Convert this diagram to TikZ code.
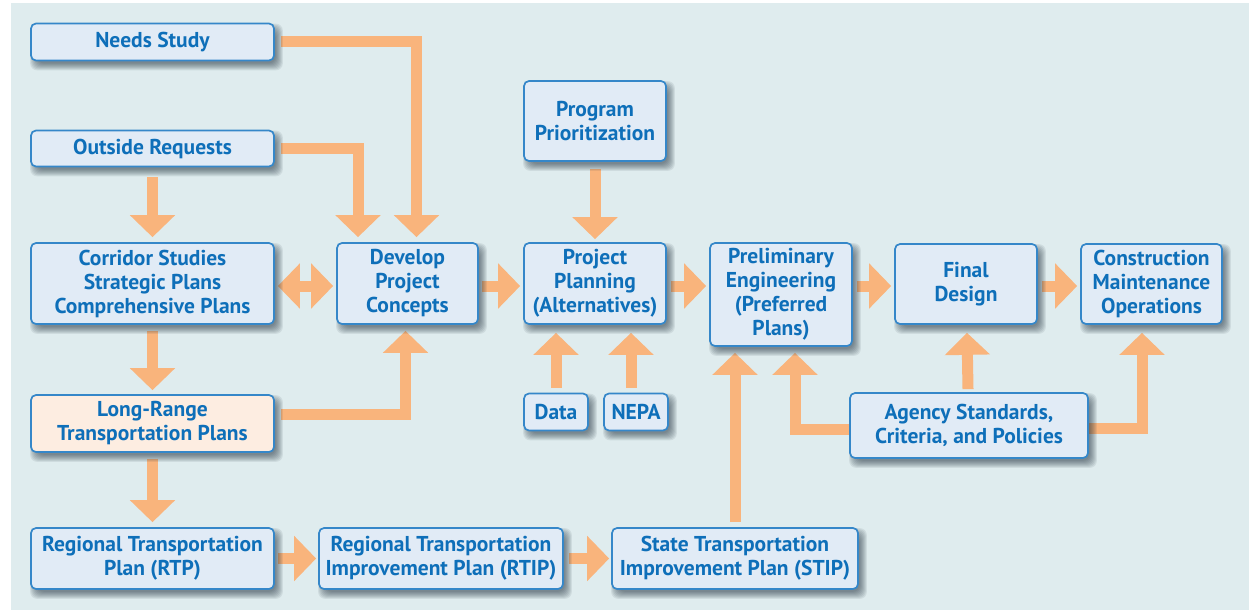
\documentclass[tikz,border=0pt]{standalone}
\usepackage{fontspec}
\setmainfont{PT Sans}
\usetikzlibrary{arrows.meta}
\definecolor{pagebg}{HTML}{DFECEE}
\definecolor{boxfill}{HTML}{E1EBF6}
\definecolor{boxline}{HTML}{3587C9}
\definecolor{boxtext}{HTML}{0E6FB9}
\definecolor{peach}{HTML}{FDEDE1}
\definecolor{flow}{HTML}{F9B47C}
\definecolor{shadowc}{HTML}{1E2E3A}
\pgfdeclarelayer{bg}
\pgfdeclarelayer{flows}
\pgfdeclarelayer{shade}
\pgfsetlayers{bg,flows,shade,main}
\tikzset{
  box/.style={draw=boxline, line width=1.7pt, fill=boxfill, rounded corners=5pt,
    text=boxtext, font=\bfseries\fontsize{21.5}{24}\selectfont, align=center,
    inner sep=0pt},
  flowarrow/.style={draw=flow, line width=11pt, line join=miter,
    -{Triangle[width=44pt,length=22pt]}},
  flowboth/.style={draw=flow, line width=11pt,
    {Triangle[width=44pt,length=22pt]}-{Triangle[width=44pt,length=22pt]}},
  softshade/.style={fill=shadowc, opacity=0.085, rounded corners=7pt},
}
\begin{document}
\begin{tikzpicture}[x=1pt,y=-1pt]
\useasboundingbox (0,0) rectangle (1249,610);
\begin{pgfonlayer}{bg}
  \fill[white] (0,0) rectangle (1249,610);
  \fill[pagebg] (11,3) rectangle (1249,610);
\end{pgfonlayer}

% left column
\node[box, minimum width=243pt, minimum height=37pt] (needs) at (152.5,42) {Needs Study};
\node[box, minimum width=243pt, minimum height=36pt] (outside) at (152.5,148.5) {Outside Requests};
\node[box, minimum width=243pt, minimum height=81pt] (corridor) at (152.5,283.5)
  {Corridor Studies\\Strategic Plans\\Comprehensive Plans};
\node[box, fill=peach, minimum width=243pt, minimum height=57pt] (longrange) at (152.5,423.5)
  {Long-Range\\Transportation Plans};
\node[box, minimum width=243pt, minimum height=61pt] (rtp) at (152.5,558.5)
  {Regional Transportation\\Plan (RTP)};

% bottom row
\node[box, minimum width=244pt, minimum height=61pt] (rtip) at (441,558.5)
  {Regional Transportation\\Improvement Plan (RTIP)};
\node[box, minimum width=246pt, minimum height=61pt] (stip) at (735,558.5)
  {State Transportation\\Improvement Plan (STIP)};

% main sequence
\node[box, minimum width=141pt, minimum height=81pt] (develop) at (407.5,283.5)
  {Develop\\Project\\Concepts};
\node[box, minimum width=142pt, minimum height=80pt] (prog) at (595,121)
  {Program\\Prioritization};
\node[box, minimum width=142pt, minimum height=81pt] (pp) at (595,283.5)
  {Project\\Planning\\(Alternatives)};
\node[box, minimum width=142pt, minimum height=103pt] (pe) at (781,294.5)
  {Preliminary\\Engineering\\(Preferred\\Plans)};
\node[box, minimum width=142pt, minimum height=80pt] (final) at (966,284)
  {Final\\Design};
\node[box, minimum width=141pt, minimum height=80pt] (constr) at (1151.5,284)
  {Construction\\Maintenance\\Operations};

% inputs
\node[box, minimum width=64pt, minimum height=37pt] (data) at (556,412) {Data};
\node[box, minimum width=64pt, minimum height=37pt] (nepa) at (636,412) {NEPA};
\node[box, minimum width=238pt, minimum height=65pt] (agency) at (969,425.5)
  {Agency Standards,\\Criteria, and Policies};

% soft drop shadows, offset down and to the right
\begin{pgfonlayer}{shade}
  \foreach \n in {needs,outside,corridor,longrange,rtp,rtip,stip,develop,prog,pp,pe,final,constr,data,nepa,agency}{
    \foreach \r in {-3,-2,...,4}{
      \fill[softshade] ([xshift=4pt-\r pt, yshift=-5pt-\r pt]\n.south west)
        rectangle ([xshift=4pt+\r pt, yshift=-5pt+\r pt]\n.north east);
    }
  }
\end{pgfonlayer}

\begin{pgfonlayer}{flows}
  \draw[flowarrow] ([xshift=6pt]needs.east) -| ([xshift=9pt,yshift=5pt]develop.north);
  \draw[flowarrow] ([xshift=6pt]outside.east) -| ([xshift=-49.5pt,yshift=5pt]develop.north);
  \draw[flowarrow] ([yshift=-10pt]outside.south) -- ([yshift=5pt]corridor.north);
  \draw[flowboth] ([xshift=3pt,yshift=-2.5pt]corridor.east) -- ([xshift=-3pt,yshift=-2.5pt]develop.west);
  \draw[flowarrow] ([yshift=-6pt]corridor.south) -- ([yshift=4pt]longrange.north);
  \draw[flowarrow] ([xshift=6pt,yshift=9pt]longrange.east) -| ([xshift=-2pt,yshift=-6pt]develop.south);
  \draw[flowarrow] ([yshift=-6pt]longrange.south) -- ([yshift=5pt]rtp.north);
  \draw[flowarrow] ([xshift=3pt]rtp.east) -- ([xshift=-2pt]rtip.west);
  \draw[flowarrow] ([xshift=5pt]rtip.east) -- ([xshift=-2pt]stip.west);
  \draw[flowarrow] ([yshift=5pt]stip.north) -- ([xshift=-46pt,yshift=-6pt]pe.south);
  \draw[flowarrow] ([yshift=-7pt]prog.south) -- ([yshift=3pt]pp.north);
  \draw[flowarrow] ([xshift=3pt,yshift=-2.5pt]develop.east) -- ([xshift=-3pt,yshift=-2.5pt]pp.west);
  \draw[flowarrow] ([xshift=4pt,yshift=-2.5pt]pp.east) -- ([xshift=-3pt,yshift=-2.5pt]pp.east -| pe.west);
  \draw[flowarrow] ([xshift=4pt,yshift=-2pt]final.west -| pe.east) -- ([xshift=-3pt,yshift=-2pt]final.west);
  \draw[flowarrow] ([xshift=4pt,yshift=-2pt]final.east) -- ([xshift=-3pt,yshift=-2pt]constr.west);
  \draw[flowarrow] ([yshift=5pt]data.north) -- ([xshift=-39pt,yshift=-8pt]pp.south);
  \draw[flowarrow] ([xshift=-5pt,yshift=5pt]nepa.north) -- ([xshift=36pt,yshift=-8pt]pp.south);
  \draw[flowarrow] ([yshift=-3.5pt]agency.west) -| ([xshift=14pt,yshift=-6pt]pe.south);
  \draw[flowarrow] ([xshift=-1pt,yshift=3pt]agency.north) -- ([xshift=1pt,yshift=-8pt]final.south);
  \draw[flowarrow] ([yshift=-2.5pt]agency.east) -| ([xshift=-9.5pt,yshift=-8pt]constr.south);
\end{pgfonlayer}
\end{tikzpicture}
\end{document}
